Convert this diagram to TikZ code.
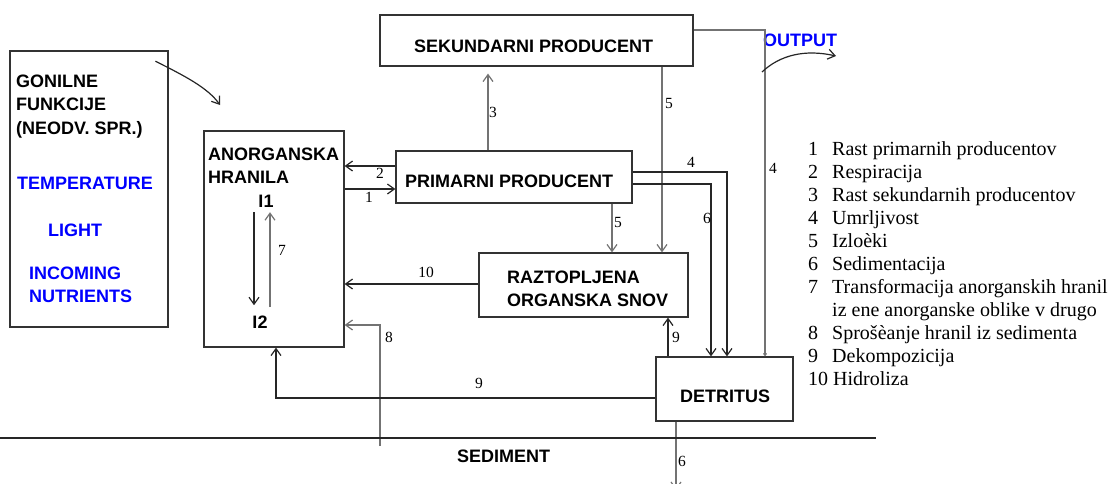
\documentclass[tikz,border=0pt]{standalone}
\usepackage{fontspec}
\setmainfont{Liberation Serif}
\newfontfamily\hv{Liberation Sans}
\usetikzlibrary{arrows.meta}
\begin{document}
\begin{tikzpicture}[x=1pt,y=-1pt,
  boxnode/.style={draw=black!80, line width=1.2pt, rectangle, inner sep=0pt},
  lbl/.style={font=\hv\bfseries\fontsize{18}{21}\selectfont, inner sep=0pt, anchor=base west},
  blbl/.style={lbl, text=blue},
  num/.style={font=\fontsize{15.5}{17}\selectfont, inner sep=0pt},
  leg/.style={font=\fontsize{20}{23}\selectfont, inner sep=0pt, anchor=base west},
  arr/.style={line width=1.2pt, draw=black!85, -{Straight Barb[length=7pt,width=10pt]}},
  garr/.style={arr, draw=black!55}]
\useasboundingbox (0,0) rectangle (1117,483);
% boxes
\node[boxnode, minimum width=158pt, minimum height=276pt] (gon) at (89,189) {};
\node[boxnode, minimum width=140pt, minimum height=216pt] (anorg) at (274,239) {};
\node[boxnode, minimum width=313pt, minimum height=51pt] (sek) at (536.5,40.5) {};
\node[boxnode, minimum width=236pt, minimum height=52pt] (prim) at (514,177) {};
\node[boxnode, minimum width=209pt, minimum height=64pt] (razt) at (583.5,285) {};
\node[boxnode, minimum width=137pt, minimum height=64pt] (det) at (724.5,389) {};
% texts
\node[lbl] (g1) at (16,87) {GONILNE};
\node[lbl] (g2) at (16,110) {FUNKCIJE};
\node[lbl] (g3) at (16,134) {(NEODV. SPR.)};
\node[blbl] (b1) at (17,189) {TEMPERATURE};
\node[blbl] (b2) at (48,236) {LIGHT};
\node[blbl] (b3) at (29,279) {INCOMING};
\node[blbl] (b4) at (29,302) {NUTRIENTS};
\node[lbl] (a1) at (208,160) {ANORGANSKA};
\node[lbl] (a2) at (208,183) {HRANILA};
\node[lbl, anchor=base] (i1) at (266,207) {I1};
\node[lbl, anchor=base] (i2) at (260,328) {I2};
\node[lbl] (s1) at (414,52) {SEKUNDARNI PRODUCENT};
\node[lbl] (p1) at (405,187) {PRIMARNI PRODUCENT};
\node[lbl] (r1) at (507,283) {RAZTOPLJENA};
\node[lbl] (r2) at (507,306) {ORGANSKA SNOV};
\node[lbl] (d1) at (680,402) {DETRITUS};
\node[lbl] (sed) at (457,462) {SEDIMENT};
\node[blbl] (out) at (763,46) {OUTPUT};
% connectors
\coordinate (c8) at (380,446);
\coordinate (c6) at (676,490);
\draw[arr] (prim.west |- 0,166) -- (anorg.east |- 0,166);
\draw[arr] (anorg.east |- 0,189) -- (prim.west |- 0,189);
\draw[garr, shorten >=7pt] (prim.north -| 488,0) -- (sek.south -| 488,0);
\draw[garr] (sek.south -| 662,0) -- (razt.north -| 662,0);
\draw[garr] (prim.south -| 612,0) -- (razt.north -| 612,0);
\draw[arr] (prim.east |- 0,172) -| (det.north -| 727,0);
\draw[arr] (prim.east |- 0,184) -| (det.north -| 711,0);
\draw[garr, -{Straight Barb[length=2pt,width=3pt]}] (sek.east |- 0,30) -| (det.north -| 765,0);
\draw[arr] (razt.west |- 0,284) -- (anorg.east |- 0,284);
\draw[garr] (c8) |- (anorg.east |- 0,325);
\draw[arr] (det.west |- 0,398) -| (anorg.south -| 276,0);
\draw[arr] (det.north -| 668,0) -- (razt.south -| 668,0);
\draw[garr] (det.south -| 676,0) -- (c6);
\draw[line width=1.6pt, black!85] (0,438) -- (876,438);
\draw[arr] ([xshift=-12pt,yshift=-5pt]i1.south) -- ([xshift=-6pt,yshift=10pt]i2.north);
\draw[garr] ([xshift=10pt,yshift=8pt]i2.north) -- ([xshift=4pt,yshift=-5pt]i1.south);
\draw[arr] (g1.north east)+(57,-13) .. controls (185,76) and (208,88) .. (220,105);
\draw[arr] (762,72) .. controls (780,55) and (805,49) .. (836,56);
% numbers
\node[num] at (380,173) {2};
\node[num] at (369,197) {1};
\node[num] at (493,112) {3};
\node[num] at (669,103) {5};
\node[num] at (691,162) {4};
\node[num] at (773,168) {4};
\node[num] at (707,218) {6};
\node[num] at (618,222) {5};
\node[num] at (282,250) {7};
\node[num] at (426,272) {10};
\node[num] at (389,337) {8};
\node[num] at (479,383) {9};
\node[num] at (676,337) {9};
\node[num] at (682,461) {6};
% legend
\foreach \n/\t [count=\k from 0] in {1/Rast primarnih producentov, 2/Respiracija, 3/Rast sekundarnih producentov, 4/Umrljivost, 5/Izloèki, 6/Sedimentacija, 7/Transformacija anorganskih hranil, /iz ene anorganske oblike v drugo, 8/Sprošèanje hranil iz sedimenta, 9/Dekompozicija}{
  \node[leg] at (808,155+23*\k) {\n};
  \node[leg] at (832,155+23*\k) {\t};
}
\node[leg] at (808,385) {10 Hidroliza};
\end{tikzpicture}
\end{document}
